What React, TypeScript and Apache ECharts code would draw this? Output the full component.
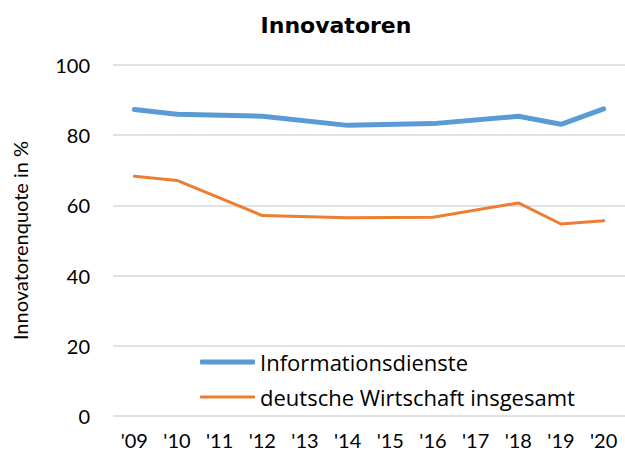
import React, { useEffect, useRef } from "react";
import * as echarts from "echarts";

const years = ["'09", "'10", "'11", "'12", "'13", "'14", "'15", "'16", "'17", "'18", "'19", "'20"];
const informationsdienste = [87.3, 86.0, null, 85.4, null, 82.8, null, 83.3, null, 85.4, 83.1, 87.5];
const wirtschaftGesamt = [68.3, 67.1, null, 57.1, null, 56.5, null, 56.6, null, 60.7, 54.7, 55.6];
const yTicks = { min: 0, max: 100, interval: 20 };

const FONT = "Lato, 'Open Sans', sans-serif";
const LEGEND_FONT = "'Open Sans', 'Noto Sans', sans-serif";

export default function App() {
  const ref = useRef<HTMLDivElement>(null);
  useEffect(() => {
    if (!ref.current) return;
    const chart = echarts.init(ref.current, null, { renderer: "svg" });
    chart.setOption({
      animation: false,
      backgroundColor: "#fff",
      title: {
        text: "Innovatoren",
        left: 331,
        textAlign: "center",
        top: 9,
        textStyle: { fontFamily: "'DejaVu Sans', Verdana, sans-serif", fontWeight: "bold", fontSize: 22, color: "#000" },
      },
      grid: { left: 113, right: 0, top: 65, bottom: 40 },
      legend: [
        {
          data: [{ name: "Informationsdienste", icon: "roundRect" }],
          left: 200,
          top: 351,
          padding: 0,
          itemWidth: 55,
          itemHeight: 5,
          textStyle: { fontFamily: LEGEND_FONT, fontSize: 22, color: "#000" },
        },
        {
          data: [{ name: "deutsche Wirtschaft insgesamt", icon: "roundRect" }],
          left: 200,
          top: 386,
          padding: 0,
          itemWidth: 55,
          itemHeight: 3,
          textStyle: { fontFamily: LEGEND_FONT, fontSize: 22, color: "#000" },
        },
      ],
      xAxis: {
        type: "category",
        data: years,
        boundaryGap: true,
        axisLine: { show: false },
        axisTick: { show: false },
        axisLabel: { fontFamily: FONT, fontSize: 20, color: "#000", margin: 14, interval: 0 },
      },
      yAxis: {
        type: "value",
        min: yTicks.min,
        max: yTicks.max,
        interval: yTicks.interval,
        name: "Innovatorenquote in %",
        nameLocation: "middle",
        nameGap: 83,
        nameTextStyle: { fontFamily: FONT, fontSize: 20, color: "#000" },
        axisLabel: { fontFamily: FONT, fontSize: 20, color: "#000", margin: 23 },
        axisLine: { show: false },
        axisTick: { show: false },
        splitLine: { lineStyle: { color: "#d9d9d9", width: 1.5 } },
      },
      series: [
        {
          name: "Informationsdienste",
          type: "line",
          data: informationsdienste,
          connectNulls: true,
          symbol: "none",
          color: "#5b9bd5",
          lineStyle: { width: 5, cap: "round", join: "round" },
        },
        {
          name: "deutsche Wirtschaft insgesamt",
          type: "line",
          data: wirtschaftGesamt,
          connectNulls: true,
          symbol: "none",
          color: "#ed7d31",
          lineStyle: { width: 3, cap: "round", join: "round" },
        },
      ],
    });
    return () => chart.dispose();
  }, []);
  return <div ref={ref} style={{ position: "absolute", left: 0, top: 0, width: 625, height: 456 }} />;
}
